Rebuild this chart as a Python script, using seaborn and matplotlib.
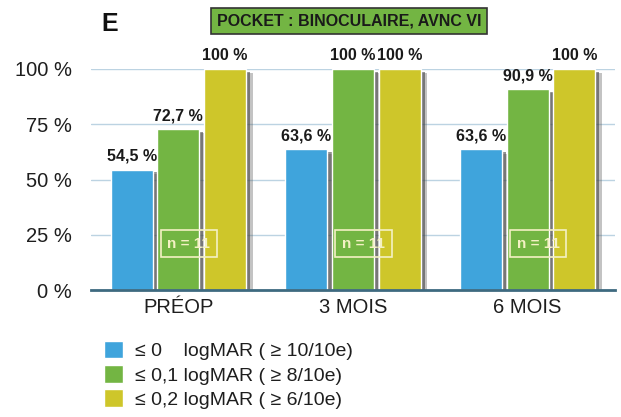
import matplotlib
matplotlib.use("Agg")
import matplotlib.pyplot as plt
import matplotlib.patheffects as pe
import pandas as pd
import seaborn as sns

# Time points and share of eyes reaching each visual acuity threshold (%)
periods = ["PRÉOP", "3 MOIS", "6 MOIS"]
le_0_logmar = [54.5, 63.6, 63.6]
le_01_logmar = [72.7, 100, 90.9]
le_02_logmar = [100, 100, 100]
series_labels = [
    "≤ 0    logMAR ( ≥ 10/10e)",
    "≤ 0,1 logMAR ( ≥ 8/10e)",
    "≤ 0,2 logMAR ( ≥ 6/10e)",
]
n_patients = [11, 11, 11]
y_ticks = [0, 25, 50, 75, 100]
title = "POCKET : BINOCULAIRE, AVNC VI"
panel = "E"

colors = ["#3FA4DC", "#73B543", "#CEC62A"]

values = le_0_logmar + le_01_logmar + le_02_logmar
df = pd.DataFrame({
    "periode": periods * 3,
    "seuil": [s for s in series_labels for _ in periods],
    "pourcentage": values,
})

sns.set_theme(style="white")
plt.rcParams["font.family"] = ["Liberation Sans", "DejaVu Sans"]

fig = plt.figure(figsize=(6.21, 4.17), dpi=100)
ax = fig.add_axes([91 / 621, 1 - 290 / 417, 524 / 621, 221 / 417])

sns.barplot(data=df, x="periode", y="pourcentage", hue="seuil",
            palette=colors, saturation=1, width=0.8, gap=0.1, ax=ax)

# soft drop shadow behind each bar (two layers to fake a blur)
shadow = [
    pe.SimplePatchShadow(offset=(5, -3), shadow_rgbFace="#555555", alpha=0.35),
    pe.SimplePatchShadow(offset=(3, -2), shadow_rgbFace="#3a3a3a", alpha=0.55),
    pe.Normal(),
]
for patch in ax.patches:
    patch.set_path_effects(shadow)

def fmt(v):
    return f"{v:g}".replace(".", ",") + " %"

for cont in ax.containers:
    vals = [b.get_height() for b in cont]
    ax.bar_label(cont, labels=[fmt(v) for v in vals], padding=4,
                 fontsize=11.5, fontweight="bold", color="#1a1a1a")

for i, n in enumerate(n_patients):
    ax.text(i + 0.06, 21, f"n = {n}", ha="center", va="center",
            color="#F4F1C4", fontweight="bold", fontsize=11,
            bbox=dict(boxstyle="square,pad=0.45", fc="none", ec="#F4F1C4", lw=1.2))

ax.set_xlim(-0.5, 2.5)
ax.set_ylim(0, 100)
ax.set_yticks(y_ticks)
ax.set_yticklabels([f"{t} %" for t in y_ticks])
ax.yaxis.grid(True, color="#BCD3E2", lw=1)
ax.set_axisbelow(True)
for side in ["top", "right", "left"]:
    ax.spines[side].set_visible(False)
ax.spines["bottom"].set_color("#3E6A80")
ax.spines["bottom"].set_linewidth(2)
ax.tick_params(axis="y", length=0, pad=14, labelsize=14.5, labelcolor="#1e1e1e")
ax.tick_params(axis="x", length=0, pad=6, labelsize=14.5, labelcolor="#1e1e1e")
ax.set_xlabel("")
ax.set_ylabel("")

handles, labels = ax.get_legend_handles_labels()
ax.get_legend().remove()
leg = fig.legend(handles, labels, loc="upper left",
                 bbox_to_anchor=(104 / 621, 1 - 341 / 417), frameon=False,
                 fontsize=14, handlelength=1.0, handleheight=1.0,
                 handletextpad=0.6, labelspacing=0.25, borderpad=0,
                 borderaxespad=0, labelcolor="#1e1e1e")
for p in leg.get_patches():
    p.set_path_effects([])

fig.text(349 / 621, 1 - 21 / 417, title, ha="center", va="center",
         fontsize=11.5, fontweight="bold", color="#1a1a1a",
         bbox=dict(boxstyle="square,pad=0.35", fc="#73B543", ec="#333333", lw=1.2))
fig.text(110 / 621, 1 - 24 / 417, panel, ha="center", va="center",
         fontsize=18, fontweight="bold", color="#111111")

fig.savefig("out.png", dpi=100)
